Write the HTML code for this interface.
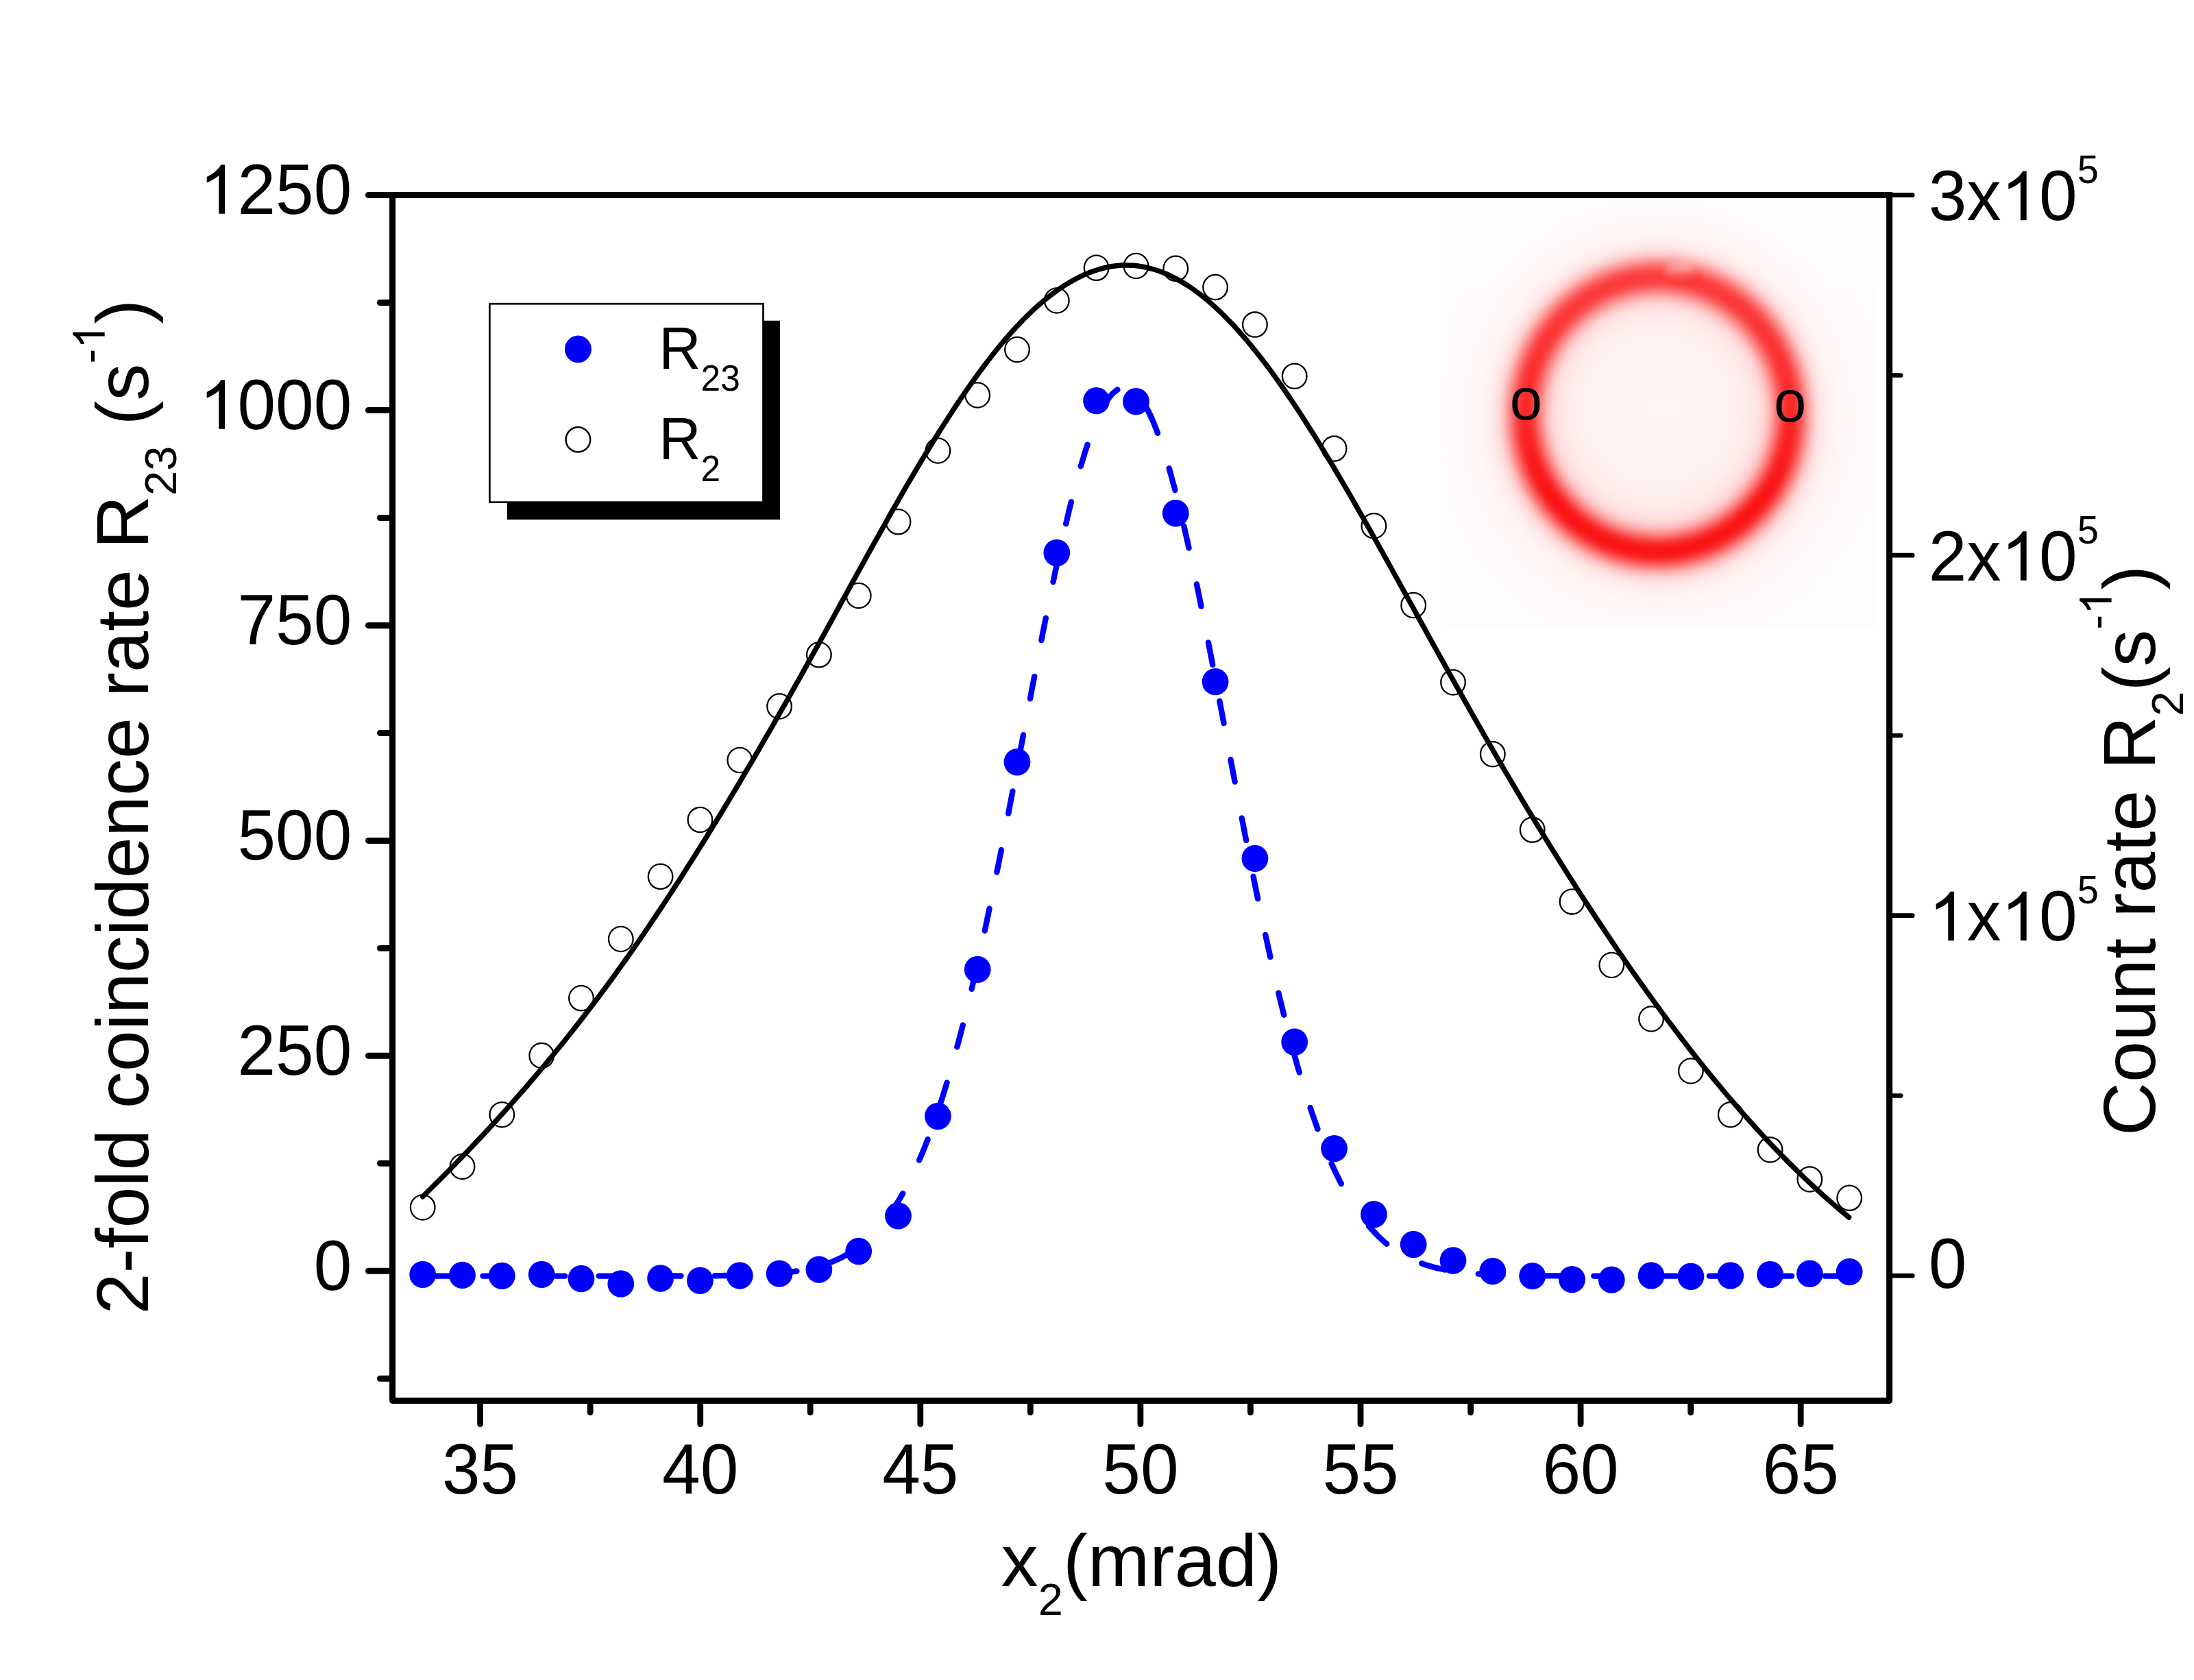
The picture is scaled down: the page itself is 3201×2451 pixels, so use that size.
<!DOCTYPE html>
<html><head><meta charset="utf-8"><title>chart</title>
<style>html,body{margin:0;padding:0;background:#fff;width:3201px;height:2451px;overflow:hidden}svg{display:block}</style></head>
<body>
<svg width="3201" height="2451" viewBox="0 0 3201 2451">
<defs>
<radialGradient id="ring" gradientUnits="userSpaceOnUse" cx="2418.8" cy="604.5" r="330" gradientTransform="translate(0,604.5) scale(1,1.0336) translate(0,-604.5)">
<stop offset="0.0000" stop-color="rgb(255, 243, 243)"/>
<stop offset="0.2424" stop-color="rgb(255, 242, 242)"/>
<stop offset="0.3030" stop-color="rgb(255, 241, 241)"/>
<stop offset="0.3121" stop-color="rgb(255, 240, 240)"/>
<stop offset="0.3212" stop-color="rgb(255, 240, 240)"/>
<stop offset="0.3303" stop-color="rgb(255, 239, 239)"/>
<stop offset="0.3394" stop-color="rgb(255, 239, 239)"/>
<stop offset="0.3485" stop-color="rgb(255, 238, 238)"/>
<stop offset="0.3576" stop-color="rgb(255, 237, 237)"/>
<stop offset="0.3667" stop-color="rgb(255, 236, 236)"/>
<stop offset="0.3758" stop-color="rgb(255, 236, 236)"/>
<stop offset="0.3848" stop-color="rgb(255, 235, 235)"/>
<stop offset="0.3939" stop-color="rgb(255, 234, 234)"/>
<stop offset="0.4030" stop-color="rgb(255, 232, 232)"/>
<stop offset="0.4121" stop-color="rgb(255, 231, 231)"/>
<stop offset="0.4212" stop-color="rgb(255, 229, 229)"/>
<stop offset="0.4303" stop-color="rgb(255, 227, 227)"/>
<stop offset="0.4394" stop-color="rgb(255, 224, 224)"/>
<stop offset="0.4485" stop-color="rgb(254, 220, 220)"/>
<stop offset="0.4576" stop-color="rgb(254, 215, 215)"/>
<stop offset="0.4667" stop-color="rgb(254, 208, 208)"/>
<stop offset="0.4758" stop-color="rgb(254, 198, 198)"/>
<stop offset="0.4848" stop-color="rgb(254, 186, 186)"/>
<stop offset="0.4939" stop-color="rgb(253, 172, 172)"/>
<stop offset="0.5030" stop-color="rgb(253, 154, 154)"/>
<stop offset="0.5121" stop-color="rgb(253, 135, 135)"/>
<stop offset="0.5212" stop-color="rgb(252, 114, 114)"/>
<stop offset="0.5303" stop-color="rgb(252, 93, 93)"/>
<stop offset="0.5394" stop-color="rgb(251, 72, 72)"/>
<stop offset="0.5485" stop-color="rgb(251, 54, 54)"/>
<stop offset="0.5576" stop-color="rgb(250, 39, 39)"/>
<stop offset="0.5667" stop-color="rgb(250, 28, 28)"/>
<stop offset="0.5758" stop-color="rgb(250, 22, 22)"/>
<stop offset="0.5848" stop-color="rgb(250, 20, 20)"/>
<stop offset="0.5939" stop-color="rgb(250, 21, 21)"/>
<stop offset="0.6030" stop-color="rgb(250, 26, 26)"/>
<stop offset="0.6121" stop-color="rgb(250, 35, 35)"/>
<stop offset="0.6212" stop-color="rgb(251, 49, 49)"/>
<stop offset="0.6303" stop-color="rgb(251, 67, 67)"/>
<stop offset="0.6394" stop-color="rgb(251, 87, 87)"/>
<stop offset="0.6485" stop-color="rgb(252, 109, 109)"/>
<stop offset="0.6576" stop-color="rgb(252, 131, 131)"/>
<stop offset="0.6667" stop-color="rgb(253, 152, 152)"/>
<stop offset="0.6758" stop-color="rgb(253, 171, 171)"/>
<stop offset="0.6848" stop-color="rgb(254, 188, 188)"/>
<stop offset="0.6939" stop-color="rgb(254, 201, 201)"/>
<stop offset="0.7030" stop-color="rgb(254, 212, 212)"/>
<stop offset="0.7121" stop-color="rgb(254, 220, 220)"/>
<stop offset="0.7212" stop-color="rgb(254, 227, 227)"/>
<stop offset="0.7303" stop-color="rgb(255, 231, 231)"/>
<stop offset="0.7394" stop-color="rgb(255, 234, 234)"/>
<stop offset="0.7485" stop-color="rgb(255, 237, 237)"/>
<stop offset="0.7576" stop-color="rgb(255, 239, 239)"/>
<stop offset="0.7667" stop-color="rgb(255, 241, 241)"/>
<stop offset="0.7758" stop-color="rgb(255, 242, 242)"/>
<stop offset="0.7848" stop-color="rgb(255, 243, 243)"/>
<stop offset="0.7939" stop-color="rgb(255, 244, 244)"/>
<stop offset="0.8030" stop-color="rgb(255, 245, 245)"/>
<stop offset="0.8121" stop-color="rgb(255, 246, 246)"/>
<stop offset="0.8212" stop-color="rgb(255, 247, 247)"/>
<stop offset="0.8303" stop-color="rgb(255, 247, 247)"/>
<stop offset="0.8394" stop-color="rgb(255, 248, 248)"/>
<stop offset="0.8485" stop-color="rgb(255, 248, 248)"/>
<stop offset="0.8576" stop-color="rgb(255, 249, 249)"/>
<stop offset="0.8667" stop-color="rgb(255, 249, 249)"/>
<stop offset="0.8758" stop-color="rgb(255, 250, 250)"/>
<stop offset="0.8848" stop-color="rgb(255, 250, 250)"/>
<stop offset="0.8939" stop-color="rgb(255, 250, 250)"/>
<stop offset="0.9030" stop-color="rgb(255, 251, 251)"/>
<stop offset="1.0000" stop-color="rgb(255, 252, 252)"/>
</radialGradient>
<linearGradient id="fade" gradientUnits="userSpaceOnUse" x1="0" y1="330" x2="0" y2="720">
<stop offset="0" stop-color="#fff" stop-opacity="0.2"/><stop offset="0.55" stop-color="#fff" stop-opacity="0.12"/><stop offset="1" stop-color="#fff" stop-opacity="0"/>
</linearGradient>
<filter id="bl" x="-1" y="-1" width="3" height="3"><feGaussianBlur stdDeviation="5"/></filter>
</defs>
<rect width="3201" height="2451" fill="#fff"/>
<rect x="2102.8" y="284" width="635.8" height="631.5" fill="url(#ring)"/>
<g filter="url(#bl)"><ellipse cx="2450" cy="392" rx="20" ry="9" fill="#fff" fill-opacity="0.3"/><path d="M2427,393 Q2436,412 2456,413 T2482,405" fill="none" stroke="#f00" stroke-opacity="0.4" stroke-width="7"/></g>
<rect x="2102.8" y="284" width="635.8" height="631.5" fill="url(#fade)"/>
<g fill="none" stroke="#000" stroke-width="2.3">
<ellipse cx="616.7" cy="1761.4" rx="17.8" ry="18.1"/>
<ellipse cx="674.5" cy="1702.0" rx="17.8" ry="18.1"/>
<ellipse cx="732.3" cy="1626.2" rx="17.8" ry="18.1"/>
<ellipse cx="790.2" cy="1540.0" rx="17.8" ry="18.1"/>
<ellipse cx="848.0" cy="1456.3" rx="17.8" ry="18.1"/>
<ellipse cx="905.8" cy="1370.0" rx="17.8" ry="18.1"/>
<ellipse cx="963.6" cy="1278.8" rx="17.8" ry="18.1"/>
<ellipse cx="1021.4" cy="1196.0" rx="17.8" ry="18.1"/>
<ellipse cx="1079.3" cy="1109.0" rx="17.8" ry="18.1"/>
<ellipse cx="1137.1" cy="1030.5" rx="17.8" ry="18.1"/>
<ellipse cx="1194.9" cy="955.3" rx="17.8" ry="18.1"/>
<ellipse cx="1252.7" cy="869.0" rx="17.8" ry="18.1"/>
<ellipse cx="1310.5" cy="761.3" rx="17.8" ry="18.1"/>
<ellipse cx="1368.4" cy="657.5" rx="17.8" ry="18.1"/>
<ellipse cx="1426.2" cy="576.5" rx="17.8" ry="18.1"/>
<ellipse cx="1484.0" cy="510.0" rx="17.8" ry="18.1"/>
<ellipse cx="1541.8" cy="438.5" rx="17.8" ry="18.1"/>
<ellipse cx="1599.6" cy="390.8" rx="17.8" ry="18.1"/>
<ellipse cx="1657.5" cy="388.0" rx="17.8" ry="18.1"/>
<ellipse cx="1715.3" cy="391.8" rx="17.8" ry="18.1"/>
<ellipse cx="1773.1" cy="419.0" rx="17.8" ry="18.1"/>
<ellipse cx="1830.9" cy="473.6" rx="17.8" ry="18.1"/>
<ellipse cx="1888.7" cy="548.7" rx="17.8" ry="18.1"/>
<ellipse cx="1946.6" cy="654.6" rx="17.8" ry="18.1"/>
<ellipse cx="2004.4" cy="767.2" rx="17.8" ry="18.1"/>
<ellipse cx="2062.2" cy="883.0" rx="17.8" ry="18.1"/>
<ellipse cx="2120.0" cy="995.5" rx="17.8" ry="18.1"/>
<ellipse cx="2177.8" cy="1100.2" rx="17.8" ry="18.1"/>
<ellipse cx="2235.7" cy="1210.6" rx="17.8" ry="18.1"/>
<ellipse cx="2293.5" cy="1315.4" rx="17.8" ry="18.1"/>
<ellipse cx="2351.3" cy="1408.0" rx="17.8" ry="18.1"/>
<ellipse cx="2409.1" cy="1486.5" rx="17.8" ry="18.1"/>
<ellipse cx="2466.9" cy="1562.5" rx="17.8" ry="18.1"/>
<ellipse cx="2524.8" cy="1626.2" rx="17.8" ry="18.1"/>
<ellipse cx="2582.6" cy="1677.4" rx="17.8" ry="18.1"/>
<ellipse cx="2640.4" cy="1720.4" rx="17.8" ry="18.1"/>
<ellipse cx="2698.2" cy="1747.8" rx="17.8" ry="18.1"/>
</g>
<path d="M616.7,1745.8 L624.7,1737.9 L632.8,1729.9 L640.8,1721.9 L648.8,1713.9 L656.9,1705.7 L664.9,1697.5 L672.9,1689.2 L681.0,1680.9 L689.0,1672.4 L697.0,1663.9 L705.1,1655.4 L713.1,1646.7 L721.1,1638.0 L729.2,1629.1 L737.2,1620.2 L745.2,1611.2 L753.3,1602.1 L761.3,1593.0 L769.4,1583.7 L777.4,1574.3 L785.4,1564.9 L793.5,1555.3 L801.5,1545.6 L809.5,1535.9 L817.6,1526.0 L825.6,1516.0 L833.6,1505.9 L841.7,1495.7 L849.7,1485.4 L857.7,1475.0 L865.8,1464.4 L873.8,1453.8 L881.8,1443.0 L889.9,1432.1 L897.9,1421.0 L905.9,1409.8 L914.0,1398.5 L922.0,1387.1 L930.0,1375.6 L938.1,1363.9 L946.1,1352.1 L954.1,1340.2 L962.2,1328.2 L970.2,1316.0 L978.2,1303.8 L986.3,1291.4 L994.3,1278.9 L1002.3,1266.3 L1010.4,1253.6 L1018.4,1240.8 L1026.5,1228.0 L1034.5,1215.0 L1042.5,1201.9 L1050.6,1188.7 L1058.6,1175.5 L1066.6,1162.1 L1074.7,1148.7 L1082.7,1135.1 L1090.7,1121.5 L1098.8,1107.8 L1106.8,1094.1 L1114.8,1080.2 L1122.9,1066.3 L1130.9,1052.3 L1138.9,1038.2 L1147.0,1024.1 L1155.0,1009.9 L1163.0,995.6 L1171.1,981.3 L1179.1,966.9 L1187.1,952.5 L1195.2,938.0 L1203.2,923.5 L1211.2,908.9 L1219.3,894.3 L1227.3,879.6 L1235.3,865.0 L1243.4,850.4 L1251.4,835.8 L1259.4,821.2 L1267.5,806.7 L1275.5,792.2 L1283.6,777.8 L1291.6,763.5 L1299.6,749.2 L1307.7,735.1 L1315.7,721.1 L1323.7,707.2 L1331.8,693.5 L1339.8,679.9 L1347.8,666.5 L1355.9,653.3 L1363.9,640.2 L1371.9,627.3 L1380.0,614.7 L1388.0,602.3 L1396.0,590.1 L1404.1,578.2 L1412.1,566.5 L1420.1,555.1 L1428.2,544.0 L1436.2,533.2 L1444.2,522.7 L1452.3,512.5 L1460.3,502.7 L1468.3,493.2 L1476.4,484.1 L1484.4,475.3 L1492.4,466.9 L1500.5,458.9 L1508.5,451.3 L1516.5,444.1 L1524.6,437.3 L1532.6,430.9 L1540.7,424.9 L1548.7,419.3 L1556.7,414.2 L1564.8,409.4 L1572.8,405.2 L1580.8,401.3 L1588.9,397.9 L1596.9,395.0 L1604.9,392.5 L1613.0,390.4 L1621.0,388.8 L1629.0,387.7 L1637.1,387.1 L1645.1,387.0 L1653.1,387.3 L1661.2,388.1 L1669.2,389.5 L1677.2,391.3 L1685.3,393.5 L1693.3,396.3 L1701.3,399.5 L1709.4,403.2 L1717.4,407.4 L1725.4,412.0 L1733.5,417.0 L1741.5,422.5 L1749.5,428.4 L1757.6,434.7 L1765.6,441.5 L1773.6,448.7 L1781.7,456.3 L1789.7,464.3 L1797.8,472.6 L1805.8,481.4 L1813.8,490.5 L1821.9,500.0 L1829.9,509.8 L1837.9,519.9 L1846.0,530.3 L1854.0,541.1 L1862.0,552.1 L1870.1,563.5 L1878.1,575.0 L1886.1,586.9 L1894.2,599.0 L1902.2,611.3 L1910.2,623.9 L1918.3,636.6 L1926.3,649.6 L1934.3,662.7 L1942.4,676.0 L1950.4,689.5 L1958.4,703.2 L1966.5,716.9 L1974.5,730.8 L1982.5,744.9 L1990.6,759.0 L1998.6,773.2 L2006.6,787.5 L2014.7,801.9 L2022.7,816.3 L2030.7,830.8 L2038.8,845.4 L2046.8,859.9 L2054.9,874.5 L2062.9,889.0 L2070.9,903.6 L2079.0,918.1 L2087.0,932.7 L2095.0,947.2 L2103.1,961.6 L2111.1,976.1 L2119.1,990.5 L2127.2,1004.8 L2135.2,1019.1 L2143.2,1033.4 L2151.3,1047.6 L2159.3,1061.7 L2167.3,1075.7 L2175.4,1089.7 L2183.4,1103.6 L2191.4,1117.4 L2199.5,1131.1 L2207.5,1144.7 L2215.5,1158.2 L2223.6,1171.7 L2231.6,1185.1 L2239.6,1198.3 L2247.7,1211.5 L2255.7,1224.6 L2263.7,1237.6 L2271.8,1250.5 L2279.8,1263.3 L2287.8,1276.0 L2295.9,1288.6 L2303.9,1301.2 L2312.0,1313.6 L2320.0,1325.9 L2328.0,1338.1 L2336.1,1350.2 L2344.1,1362.2 L2352.1,1374.2 L2360.2,1386.0 L2368.2,1397.7 L2376.2,1409.3 L2384.3,1420.8 L2392.3,1432.1 L2400.3,1443.4 L2408.4,1454.6 L2416.4,1465.6 L2424.4,1476.6 L2432.5,1487.4 L2440.5,1498.1 L2448.5,1508.7 L2456.6,1519.2 L2464.6,1529.6 L2472.6,1539.9 L2480.7,1550.0 L2488.7,1560.0 L2496.7,1569.9 L2504.8,1579.7 L2512.8,1589.4 L2520.8,1598.9 L2528.9,1608.3 L2536.9,1617.6 L2544.9,1626.8 L2553.0,1635.8 L2561.0,1644.8 L2569.1,1653.5 L2577.1,1662.2 L2585.1,1670.7 L2593.2,1679.1 L2601.2,1687.4 L2609.2,1695.5 L2617.3,1703.5 L2625.3,1711.4 L2633.3,1719.1 L2641.4,1726.7 L2649.4,1734.2 L2657.4,1741.5 L2665.5,1748.7 L2673.5,1755.7 L2681.5,1762.6 L2689.6,1769.4 L2697.6,1776.0" fill="none" stroke="#000" stroke-width="7.5" stroke-linecap="round" stroke-linejoin="round"/>
<g fill="none" stroke="#0000ff" stroke-width="8.4" stroke-linecap="round">
<path d="M616.7,1861.6 L616.7,1861.6 L618.8,1861.6 L620.9,1861.6 L622.9,1861.6 L625.0,1861.6 L627.1,1861.6 L629.2,1861.6 L631.3,1861.6 L633.4,1861.6 L635.4,1861.6 L637.5,1861.6 L639.6,1861.6 L641.7,1861.6 L643.8,1861.6 L645.8,1861.6 L647.9,1861.6 L650.0,1861.6 L652.1,1861.6 L654.2,1861.6 L656.2,1861.6 L658.3,1861.6 L660.4,1861.6 L662.5,1861.6 L664.6,1861.6 L666.7,1861.6 L668.7,1861.6 L670.8,1861.6 L672.9,1861.6 L675.0,1861.6 L677.1,1861.6 L679.1,1861.6 L681.2,1861.6 L683.3,1861.6 L685.4,1861.6 L687.5,1861.6 L689.6,1861.6 L691.6,1861.6 L693.7,1861.6 L695.8,1861.6 L697.9,1861.6 L700.0,1861.6 L702.0,1861.6 L704.1,1861.6 L706.2,1861.6 L708.3,1861.6 L710.4,1861.6 L712.4,1861.6 L714.5,1861.6 L716.6,1861.6 L718.7,1861.6 L720.8,1861.6 L722.9,1861.6 L724.9,1861.6 L727.0,1861.6 L729.1,1861.6 L731.2,1861.6 L733.3,1861.6 L735.3,1861.6 L737.4,1861.6 L739.5,1861.6 L741.6,1861.6 L743.7,1861.6 L745.8,1861.6 L747.8,1861.6 L749.9,1861.6 L752.0,1861.6 L754.1,1861.6 L756.2,1861.6 L758.2,1861.6 L760.3,1861.6 L762.4,1861.6 L764.5,1861.6 L766.6,1861.6 L768.7,1861.6 L770.7,1861.6 L772.8,1861.6 L774.9,1861.6 L777.0,1861.6 L779.1,1861.6 L781.1,1861.6 L783.2,1861.6 L785.3,1861.6 L787.4,1861.6 L789.5,1861.6 L791.5,1861.6 L793.6,1861.6 L795.7,1861.6 L797.8,1861.6 L799.9,1861.6 L802.0,1861.6 L804.0,1861.6 L806.1,1861.6 L808.2,1861.6 L810.3,1861.6 L812.4,1861.6 L814.4,1861.6 L816.5,1861.6 L818.6,1861.6 L820.7,1861.6 L822.8,1861.6 L824.9,1861.6 L826.9,1861.6 L829.0,1861.6 L831.1,1861.6 L833.2,1861.6 L835.3,1861.6 L837.3,1861.6 L839.4,1861.6 L841.5,1861.6 L843.6,1861.6 L845.7,1861.6 L847.7,1861.6 L849.8,1861.6 L851.9,1861.6 L854.0,1861.6 L856.1,1861.6 L858.2,1861.6 L860.2,1861.6 L862.3,1861.6 L864.4,1861.6 L866.5,1861.6 L868.6,1861.6 L870.6,1861.6 L872.7,1861.6 L874.8,1861.6 L876.9,1861.6 L879.0,1861.6 L881.1,1861.6 L883.1,1861.6 L885.2,1861.6 L887.3,1861.6 L889.4,1861.6 L891.5,1861.6 L893.5,1861.6 L895.6,1861.6 L897.7,1861.6 L899.8,1861.6 L901.9,1861.6 L903.9,1861.6 L906.0,1861.6 L908.1,1861.6 L910.2,1861.6 L912.3,1861.6 L914.4,1861.6 L916.4,1861.6 L918.5,1861.6 L920.6,1861.6 L922.7,1861.6 L924.8,1861.6 L926.8,1861.6 L928.9,1861.6 L931.0,1861.6 L933.1,1861.6 L935.2,1861.6 L937.3,1861.6 L939.3,1861.6 L941.4,1861.6 L943.5,1861.6 L945.6,1861.6 L947.7,1861.6 L949.7,1861.6 L951.8,1861.6 L953.9,1861.6 L956.0,1861.6 L958.1,1861.6 L960.2,1861.6 L962.2,1861.6 L964.3,1861.6 L966.4,1861.6 L968.5,1861.6 L970.6,1861.6 L972.6,1861.5 L974.7,1861.5 L976.8,1861.5 L978.9,1861.5 L981.0,1861.5 L983.0,1861.5 L985.1,1861.5 L987.2,1861.5 L989.3,1861.5 L991.4,1861.5 L993.5,1861.5 L995.5,1861.5 L997.6,1861.5 L999.7,1861.5 L1001.8,1861.5 L1003.9,1861.5 L1005.9,1861.5 L1008.0,1861.5 L1010.1,1861.4 L1012.2,1861.4 L1014.3,1861.4 L1016.4,1861.4 L1018.4,1861.4 L1020.5,1861.4 L1022.6,1861.4 L1024.7,1861.4 L1026.8,1861.4 L1028.8,1861.3 L1030.9,1861.3 L1033.0,1861.3 L1035.1,1861.3 L1037.2,1861.3 L1039.2,1861.2 L1041.3,1861.2 L1043.4,1861.2 L1045.5,1861.2 L1047.6,1861.2 L1049.7,1861.1 L1051.7,1861.1 L1053.8,1861.1 L1055.9,1861.0 L1058.0,1861.0 L1060.1,1861.0 L1062.1,1860.9 L1064.2,1860.9 L1066.3,1860.9 L1068.4,1860.8 L1070.5,1860.8 L1072.6,1860.7 L1074.6,1860.7 L1076.7,1860.7 L1078.8,1860.6 L1080.9,1860.5 L1083.0,1860.5 L1085.0,1860.4 L1087.1,1860.4 L1089.2,1860.3 L1091.3,1860.2 L1093.4,1860.2 L1095.4,1860.1 L1097.5,1860.0 L1099.6,1859.9 L1101.7,1859.8 L1103.8,1859.7 L1105.9,1859.6 L1107.9,1859.5 L1110.0,1859.4 L1112.1,1859.3 L1114.2,1859.2 L1116.3,1859.1 L1118.3,1859.0 L1120.4,1858.8 L1122.5,1858.7 L1124.6,1858.5 L1126.7,1858.4 L1128.8,1858.2 L1130.8,1858.1 L1132.9,1857.9 L1135.0,1857.7 L1137.1,1857.5 L1139.2,1857.3 L1141.2,1857.1 L1143.3,1856.9 L1145.4,1856.7 L1147.5,1856.4 L1149.6,1856.2 L1151.7,1855.9 L1153.7,1855.6 L1155.8,1855.4 L1157.9,1855.1 L1160.0,1854.8 L1162.1,1854.5 L1164.1,1854.1 L1166.2,1853.8 L1168.3,1853.4 L1170.4,1853.0 L1172.5,1852.7 L1174.5,1852.3 L1176.6,1851.8 L1178.7,1851.4 L1180.8,1850.9 L1182.9,1850.5 L1185.0,1850.0 L1187.0,1849.5 L1189.1,1848.9 L1191.2,1848.4 L1193.3,1847.8 L1195.4,1847.2 L1197.4,1846.6 L1199.5,1846.0 L1201.6,1845.3 L1203.7,1844.6 L1205.8,1843.9 L1207.9,1843.2 L1209.9,1842.4 L1212.0,1841.6 L1214.1,1840.8 L1216.2,1839.9 L1218.3,1839.0 L1220.3,1838.1 L1222.4,1837.2 L1224.5,1836.2 L1226.6,1835.2 L1228.7,1834.1 L1230.7,1833.0 L1232.8,1831.9 L1234.9,1830.8 L1237.0,1829.6 L1239.1,1828.3 L1241.2,1827.0 L1243.2,1825.7 L1245.3,1824.3 L1247.4,1822.9 L1249.5,1821.5 L1251.6,1819.9 L1253.6,1818.4 L1255.7,1816.8 L1257.8,1815.1 L1259.9,1813.4 L1262.0,1811.7 L1264.1,1809.8 L1266.1,1808.0 L1268.2,1806.1 L1268.8,1805.5" stroke-dasharray="35.2 49.4" stroke-dashoffset="-3.2"/>
<path d="M1268.8,1805.5 L1269.3,1805.1 L1271.3,1803.1 L1273.4,1801.0 L1275.5,1798.8 L1277.6,1796.7 L1279.7,1794.4 L1281.7,1792.1 L1283.8,1789.7 L1285.9,1787.2 L1288.0,1784.7 L1290.1,1782.1 L1292.2,1779.4 L1294.2,1776.7 L1296.3,1773.9 L1298.4,1771.0 L1300.5,1768.0 L1302.6,1764.9 L1304.6,1761.8 L1306.7,1758.6 L1308.8,1755.3 L1310.9,1751.9 L1313.0,1748.5 L1315.0,1744.9 L1317.1,1741.3 L1319.2,1737.6 L1321.3,1733.8 L1323.4,1729.9 L1325.5,1725.9 L1327.5,1721.8 L1329.6,1717.6 L1331.7,1713.3 L1333.8,1708.9 L1335.9,1704.5 L1337.9,1699.9 L1340.0,1695.2 L1342.1,1690.4 L1344.2,1685.5 L1346.3,1680.6 L1348.4,1675.5 L1350.4,1670.3 L1352.5,1665.0 L1354.6,1659.6 L1356.7,1654.1 L1358.8,1648.4 L1360.8,1642.7 L1362.9,1636.9 L1365.0,1630.9 L1367.1,1624.8 L1369.2,1618.7 L1371.3,1612.4 L1373.3,1606.0 L1375.4,1599.4 L1377.5,1592.8 L1379.6,1586.1 L1381.7,1579.2 L1383.7,1572.3 L1385.8,1565.2 L1387.9,1558.0 L1390.0,1550.7 L1392.1,1543.2 L1394.1,1535.7 L1396.2,1528.1 L1398.3,1520.3 L1400.4,1512.4 L1402.5,1504.4 L1404.6,1496.3 L1406.6,1488.1 L1408.7,1479.8 L1410.8,1471.4 L1412.9,1462.9 L1415.0,1454.2 L1417.0,1445.5 L1419.1,1436.6 L1421.2,1427.7 L1423.3,1418.6 L1425.4,1409.5 L1427.5,1400.2 L1429.5,1390.9 L1431.6,1381.4 L1433.7,1371.9 L1435.8,1362.3 L1437.9,1352.6 L1439.9,1342.8 L1442.0,1332.9 L1444.1,1322.9 L1446.2,1312.9 L1448.3,1302.7 L1450.3,1292.5 L1452.4,1282.3 L1454.5,1271.9 L1456.6,1261.5 L1458.7,1251.0 L1460.8,1240.5 L1462.8,1229.9 L1464.9,1219.3 L1467.0,1208.6 L1469.1,1197.8 L1471.2,1187.0 L1473.2,1176.2 L1475.3,1165.3 L1477.4,1154.4 L1479.5,1143.5 L1481.6,1132.5 L1482.8,1126.1" stroke-dasharray="33 54.2" stroke-dashoffset="-47.7"/>
<path d="M1482.8,1126.1 L1483.1,1124.3 L1485.2,1113.3 L1487.3,1102.3 L1489.4,1091.3 L1491.5,1080.3 L1493.5,1069.3 L1495.6,1058.2 L1497.7,1047.2 L1499.8,1036.2 L1501.9,1025.2 L1503.9,1014.3 L1506.0,1003.3 L1508.1,992.4 L1510.2,981.5 L1512.3,970.7 L1514.4,959.9 L1516.4,949.2 L1518.5,938.5 L1520.6,927.8 L1522.7,917.3 L1524.8,906.8 L1526.8,896.3 L1528.9,886.0 L1531.0,875.7 L1533.1,865.5 L1535.2,855.4 L1537.3,845.4 L1539.3,835.5 L1541.4,825.8 L1543.5,816.1 L1545.6,806.5 L1547.7,797.1 L1549.7,787.8 L1551.8,778.6 L1553.9,769.6 L1556.0,760.7 L1558.1,751.9 L1560.1,743.3 L1562.2,734.9 L1564.3,726.6 L1566.4,718.5 L1568.5,710.5 L1570.6,702.8 L1572.6,695.2 L1574.7,687.7 L1576.8,680.5 L1578.9,673.4 L1581.0,666.6 L1583.0,659.9 L1585.1,653.5 L1587.2,647.2 L1589.3,641.2 L1591.4,635.3 L1593.5,629.7 L1595.5,624.3 L1595.6,624.1" stroke-dasharray="33 53.8" stroke-dashoffset="-21.9"/>
<path d="M1595.6,624.1 L1596.1,623.0 L1598.1,617.9 L1600.2,613.0 L1602.3,608.3 L1604.4,603.8 L1606.5,599.6 L1608.5,595.6 L1610.6,591.9 L1612.7,588.4 L1614.8,585.1 L1616.9,582.1 L1619.0,579.3 L1621.0,576.8 L1623.1,574.5 L1625.2,572.5 L1627.3,570.7 L1629.4,569.2 L1631.4,567.9 L1633.5,566.9 L1635.6,566.1 L1637.7,565.6 L1639.8,565.3 L1641.8,565.3 L1643.9,565.6 L1646.0,566.1 L1648.1,566.8 L1650.2,567.9 L1652.3,569.1 L1654.3,570.6 L1656.4,572.4 L1658.5,574.4 L1660.6,576.7 L1662.7,579.2 L1664.7,582.0 L1666.0,583.8" stroke-dasharray="33 300" stroke-dashoffset="-33.6"/>
<path d="M1669.3,588.8 L1669.4,589.1 L1671.5,592.7 L1673.6,596.4 L1675.7,600.5 L1677.8,604.7 L1679.8,609.2 L1680.2,610.2" stroke-dasharray="100 100" stroke-dashoffset="0"/>
<path d="M1666.0,583.8 L1666.3,584.2 L1668.4,587.4 L1670.5,590.8 L1672.6,594.5 L1674.6,598.4 L1676.7,602.6 L1678.8,607.0 L1680.9,611.6 L1683.0,616.4 L1685.0,621.5 L1687.1,626.8 L1689.2,632.3 L1691.3,638.0 L1693.4,643.9 L1695.4,650.1 L1697.5,656.4 L1699.6,663.0 L1701.7,669.7 L1703.8,676.7 L1705.9,683.8 L1707.9,691.1 L1710.0,698.6 L1712.1,706.3 L1714.2,714.2 L1716.3,722.2 L1718.3,730.4 L1720.4,738.8 L1722.5,747.3 L1724.6,755.9 L1726.7,764.8 L1728.8,773.7 L1730.8,782.8 L1732.9,792.1 L1735.0,801.4 L1737.1,810.9 L1739.2,820.5 L1741.2,830.2 L1743.3,840.1 L1745.4,850.0 L1747.5,860.0 L1749.6,870.2 L1751.6,880.4 L1753.7,890.7 L1755.8,901.1 L1757.9,911.6 L1760.0,922.1 L1762.1,932.7 L1764.1,943.4 L1766.2,954.1 L1768.3,964.9 L1770.4,975.7 L1772.5,986.5 L1774.5,997.4 L1776.6,1008.4 L1778.7,1019.3 L1780.8,1030.3 L1782.9,1041.3 L1785.0,1052.3 L1787.0,1063.3 L1789.1,1074.3 L1791.2,1085.4 L1793.3,1096.4 L1795.4,1107.4 L1797.4,1118.4 L1799.5,1129.4 L1801.6,1140.3 L1803.7,1151.3 L1805.8,1162.2 L1807.8,1173.0 L1809.9,1183.9 L1812.0,1194.7 L1814.1,1205.4 L1816.2,1216.2 L1818.3,1226.8 L1820.3,1237.4 L1822.4,1248.0 L1824.5,1258.5 L1826.6,1268.9 L1828.7,1279.3 L1830.7,1289.6 L1832.8,1299.8 L1834.9,1309.9 L1837.0,1320.0 L1839.1,1330.0 L1841.2,1339.9 L1843.2,1349.7 L1845.3,1359.5 L1847.4,1369.1 L1849.5,1378.7 L1851.6,1388.2 L1853.6,1397.5 L1855.7,1406.8 L1857.8,1416.0 L1859.9,1425.1 L1862.0,1434.0 L1864.1,1442.9 L1866.1,1451.7 L1868.2,1460.4 L1870.3,1468.9 L1872.4,1477.4 L1874.5,1485.7 L1876.5,1494.0 L1878.6,1502.1 L1880.7,1510.1 L1882.8,1518.0 L1884.9,1525.8 L1886.9,1533.5 L1889.0,1541.1 L1891.1,1548.5 L1893.2,1555.9 L1895.3,1563.1 L1897.4,1570.2 L1899.4,1577.2 L1901.5,1584.1 L1903.6,1590.9 L1905.7,1597.5 L1907.8,1604.1 L1909.8,1610.5 L1911.9,1616.8 L1914.0,1623.0 L1916.1,1629.1 L1918.2,1635.1 L1920.3,1641.0 L1922.3,1646.8 L1924.4,1652.4 L1926.5,1658.0 L1928.6,1663.4 L1930.7,1668.8 L1932.7,1674.0 L1934.8,1679.1 L1936.9,1684.1 L1939.0,1689.0 L1941.1,1693.8 L1943.1,1698.5 L1945.2,1703.1 L1947.3,1707.6 L1949.4,1712.1 L1951.5,1716.4 L1953.6,1720.6 L1955.6,1724.7 L1957.7,1728.7 L1959.8,1732.6 L1961.9,1736.5 L1964.0,1740.2 L1966.0,1743.9 L1968.1,1747.5 L1970.2,1750.9 L1972.3,1754.3 L1974.4,1757.7 L1976.5,1760.9 L1977.9,1763.1" stroke-dasharray="33 53.9" stroke-dashoffset="-20.5"/>
<path d="M1977.9,1763.1 L1978.0,1763.3 L1980.1,1766.4 L1982.2,1769.4 L1984.3,1772.3 L1986.3,1775.2 L1988.4,1777.9 L1990.5,1780.7 L1992.6,1783.3 L1994.7,1785.9 L1996.7,1788.4 L1998.8,1790.8 L2000.9,1793.1 L2003.0,1795.4 L2005.1,1797.7 L2007.2,1799.8 L2009.2,1801.9 L2011.3,1804.0 L2013.4,1806.0 L2015.5,1807.9 L2017.6,1809.8 L2019.6,1811.6 L2021.7,1813.4 L2023.8,1815.1 L2025.9,1816.7 L2028.0,1818.3 L2030.1,1819.9 L2032.1,1821.4 L2034.2,1822.9 L2036.3,1824.3 L2038.4,1825.6 L2040.5,1827.0 L2042.5,1828.3 L2044.6,1829.5 L2046.7,1830.7 L2048.8,1831.9 L2049.0,1832.0" stroke-dasharray="37 200" stroke-dashoffset="-32"/>
<path d="M2049.0,1832.0 L2049.3,1832.2 L2051.4,1833.3 L2053.5,1834.4 L2055.6,1835.4 L2057.6,1836.4 L2059.7,1837.4 L2061.8,1838.3 L2063.9,1839.2 L2066.0,1840.1 L2068.0,1841.0 L2070.1,1841.8 L2072.2,1842.6 L2074.3,1843.3 L2076.4,1844.1 L2078.4,1844.8 L2080.5,1845.5 L2082.6,1846.1 L2084.7,1846.7 L2086.8,1847.4 L2088.9,1847.9 L2090.9,1848.5 L2093.0,1849.1 L2095.1,1849.6 L2097.2,1850.1 L2099.3,1850.6 L2101.3,1851.0 L2103.4,1851.5 L2105.5,1851.9 L2107.6,1852.3 L2109.7,1852.7 L2111.8,1853.1 L2113.8,1853.5 L2115.9,1853.9 L2118.0,1854.2 L2120.1,1854.5 L2122.2,1854.8 L2124.2,1855.1 L2126.3,1855.4 L2128.4,1855.7 L2130.5,1856.0 L2132.6,1856.2 L2134.6,1856.5 L2136.7,1856.7 L2138.8,1856.9 L2140.9,1857.1 L2143.0,1857.3 L2145.1,1857.5 L2147.1,1857.7 L2149.2,1857.9 L2151.3,1858.1 L2153.4,1858.3 L2155.5,1858.4 L2157.5,1858.6 L2159.6,1858.7 L2161.7,1858.8 L2163.8,1859.0 L2165.9,1859.1 L2168.0,1859.2 L2170.0,1859.3 L2172.1,1859.5 L2174.2,1859.6 L2176.3,1859.7 L2178.4,1859.8 L2180.4,1859.8 L2182.5,1859.9 L2184.6,1860.0 L2186.7,1860.1 L2188.8,1860.2 L2190.8,1860.2 L2192.9,1860.3 L2195.0,1860.4 L2197.1,1860.4 L2199.2,1860.5 L2201.3,1860.6 L2203.3,1860.6 L2205.4,1860.7 L2207.5,1860.7 L2209.6,1860.8 L2211.7,1860.8 L2213.7,1860.8 L2215.8,1860.9 L2217.9,1860.9 L2220.0,1861.0 L2222.1,1861.0 L2224.2,1861.0 L2226.2,1861.1 L2228.3,1861.1 L2230.4,1861.1 L2232.5,1861.1 L2234.6,1861.2 L2236.6,1861.2 L2238.7,1861.2 L2240.8,1861.2 L2242.9,1861.3 L2245.0,1861.3 L2247.1,1861.3 L2249.1,1861.3 L2251.2,1861.3 L2253.3,1861.3 L2255.4,1861.4 L2257.5,1861.4 L2259.5,1861.4 L2261.6,1861.4 L2263.7,1861.4 L2265.8,1861.4 L2267.9,1861.4 L2269.9,1861.4 L2272.0,1861.4 L2274.1,1861.5 L2276.2,1861.5 L2278.3,1861.5 L2280.4,1861.5 L2282.4,1861.5 L2284.5,1861.5 L2286.6,1861.5 L2288.7,1861.5 L2290.8,1861.5 L2292.8,1861.5 L2294.9,1861.5 L2297.0,1861.5 L2299.1,1861.5 L2301.2,1861.5 L2303.3,1861.5 L2305.3,1861.5 L2307.4,1861.5 L2309.5,1861.5 L2311.6,1861.6 L2313.7,1861.6 L2315.7,1861.6 L2317.8,1861.6 L2319.9,1861.6 L2322.0,1861.6 L2324.1,1861.6 L2326.1,1861.6 L2328.2,1861.6 L2330.3,1861.6 L2332.4,1861.6 L2334.5,1861.6 L2336.6,1861.6 L2338.6,1861.6 L2340.7,1861.6 L2342.8,1861.6 L2344.9,1861.6 L2347.0,1861.6 L2349.0,1861.6 L2351.1,1861.6 L2353.2,1861.6 L2355.3,1861.6 L2357.4,1861.6 L2359.5,1861.6 L2361.5,1861.6 L2363.6,1861.6 L2365.7,1861.6 L2367.8,1861.6 L2369.9,1861.6 L2371.9,1861.6 L2374.0,1861.6 L2376.1,1861.6 L2378.2,1861.6 L2380.3,1861.6 L2382.3,1861.6 L2384.4,1861.6 L2386.5,1861.6 L2388.6,1861.6 L2390.7,1861.6 L2392.8,1861.6 L2394.8,1861.6 L2396.9,1861.6 L2399.0,1861.6 L2401.1,1861.6 L2403.2,1861.6 L2405.2,1861.6 L2407.3,1861.6 L2409.4,1861.6 L2411.5,1861.6 L2413.6,1861.6 L2415.7,1861.6 L2417.7,1861.6 L2419.8,1861.6 L2421.9,1861.6 L2424.0,1861.6 L2426.1,1861.6 L2428.1,1861.6 L2430.2,1861.6 L2432.3,1861.6 L2434.4,1861.6 L2436.5,1861.6 L2438.6,1861.6 L2440.6,1861.6 L2442.7,1861.6 L2444.8,1861.6 L2446.9,1861.6 L2449.0,1861.6 L2451.0,1861.6 L2453.1,1861.6 L2455.2,1861.6 L2457.3,1861.6 L2459.4,1861.6 L2461.4,1861.6 L2463.5,1861.6 L2465.6,1861.6 L2467.7,1861.6 L2469.8,1861.6 L2471.9,1861.6 L2473.9,1861.6 L2476.0,1861.6 L2478.1,1861.6 L2480.2,1861.6 L2482.3,1861.6 L2484.3,1861.6 L2486.4,1861.6 L2488.5,1861.6 L2490.6,1861.6 L2492.7,1861.6 L2494.8,1861.6 L2496.8,1861.6 L2498.9,1861.6 L2501.0,1861.6 L2503.1,1861.6 L2505.2,1861.6 L2507.2,1861.6 L2509.3,1861.6 L2511.4,1861.6 L2513.5,1861.6 L2515.6,1861.6 L2517.6,1861.6 L2519.7,1861.6 L2521.8,1861.6 L2523.9,1861.6 L2526.0,1861.6 L2528.1,1861.6 L2530.1,1861.6 L2532.2,1861.6 L2534.3,1861.6 L2536.4,1861.6 L2538.5,1861.6 L2540.5,1861.6 L2542.6,1861.6 L2544.7,1861.6 L2546.8,1861.6 L2548.9,1861.6 L2551.0,1861.6 L2553.0,1861.6 L2555.1,1861.6 L2557.2,1861.6 L2559.3,1861.6 L2561.4,1861.6 L2563.4,1861.6 L2565.5,1861.6 L2567.6,1861.6 L2569.7,1861.6 L2571.8,1861.6 L2573.8,1861.6 L2575.9,1861.6 L2578.0,1861.6 L2580.1,1861.6 L2582.2,1861.6 L2584.3,1861.6 L2586.3,1861.6 L2588.4,1861.6 L2590.5,1861.6 L2592.6,1861.6 L2594.7,1861.6 L2596.7,1861.6 L2598.8,1861.6 L2600.9,1861.6 L2603.0,1861.6 L2605.1,1861.6 L2607.2,1861.6 L2609.2,1861.6 L2611.3,1861.6 L2613.4,1861.6 L2615.5,1861.6 L2617.6,1861.6 L2619.6,1861.6 L2621.7,1861.6 L2623.8,1861.6 L2625.9,1861.6 L2628.0,1861.6 L2630.1,1861.6 L2632.1,1861.6 L2634.2,1861.6 L2636.3,1861.6 L2638.4,1861.6 L2640.5,1861.6 L2642.5,1861.6 L2644.6,1861.6 L2646.7,1861.6 L2648.8,1861.6 L2650.9,1861.6 L2652.9,1861.6 L2655.0,1861.6 L2657.1,1861.6 L2659.2,1861.6 L2661.3,1861.6 L2663.4,1861.6 L2665.4,1861.6 L2667.5,1861.6 L2669.6,1861.6 L2671.7,1861.6 L2673.8,1861.6 L2675.8,1861.6 L2677.9,1861.6 L2680.0,1861.6 L2682.1,1861.6 L2684.2,1861.6 L2686.3,1861.6 L2688.3,1861.6 L2690.4,1861.6 L2692.5,1861.6 L2694.6,1861.6 L2696.7,1861.6 L2698.2,1861.6" stroke-dasharray="36 48.3" stroke-dashoffset="-27.6"/>
</g>
<g fill="#0000ff">
<ellipse cx="616.7" cy="1859.4" rx="19.4" ry="19.7"/>
<ellipse cx="674.5" cy="1860.4" rx="19.4" ry="19.7"/>
<ellipse cx="732.3" cy="1861.4" rx="19.4" ry="19.7"/>
<ellipse cx="790.2" cy="1859.4" rx="19.4" ry="19.7"/>
<ellipse cx="848.0" cy="1865.5" rx="19.4" ry="19.7"/>
<ellipse cx="905.8" cy="1873.0" rx="19.4" ry="19.7"/>
<ellipse cx="963.6" cy="1865.0" rx="19.4" ry="19.7"/>
<ellipse cx="1021.4" cy="1868.3" rx="19.4" ry="19.7"/>
<ellipse cx="1079.3" cy="1861.0" rx="19.4" ry="19.7"/>
<ellipse cx="1137.1" cy="1858.1" rx="19.4" ry="19.7"/>
<ellipse cx="1194.9" cy="1852.1" rx="19.4" ry="19.7"/>
<ellipse cx="1252.7" cy="1825.5" rx="19.4" ry="19.7"/>
<ellipse cx="1310.5" cy="1773.9" rx="19.4" ry="19.7"/>
<ellipse cx="1368.4" cy="1628.5" rx="19.4" ry="19.7"/>
<ellipse cx="1426.2" cy="1414.4" rx="19.4" ry="19.7"/>
<ellipse cx="1484.0" cy="1111.8" rx="19.4" ry="19.7"/>
<ellipse cx="1541.8" cy="806.5" rx="19.4" ry="19.7"/>
<ellipse cx="1599.6" cy="584.6" rx="19.4" ry="19.7"/>
<ellipse cx="1657.5" cy="585.8" rx="19.4" ry="19.7"/>
<ellipse cx="1715.3" cy="748.7" rx="19.4" ry="19.7"/>
<ellipse cx="1773.1" cy="994.6" rx="19.4" ry="19.7"/>
<ellipse cx="1830.9" cy="1252.4" rx="19.4" ry="19.7"/>
<ellipse cx="1888.7" cy="1520.2" rx="19.4" ry="19.7"/>
<ellipse cx="1946.6" cy="1675.6" rx="19.4" ry="19.7"/>
<ellipse cx="2004.4" cy="1771.8" rx="19.4" ry="19.7"/>
<ellipse cx="2062.2" cy="1815.5" rx="19.4" ry="19.7"/>
<ellipse cx="2120.0" cy="1839.0" rx="19.4" ry="19.7"/>
<ellipse cx="2177.8" cy="1854.6" rx="19.4" ry="19.7"/>
<ellipse cx="2235.7" cy="1861.6" rx="19.4" ry="19.7"/>
<ellipse cx="2293.5" cy="1866.6" rx="19.4" ry="19.7"/>
<ellipse cx="2351.3" cy="1867.1" rx="19.4" ry="19.7"/>
<ellipse cx="2409.1" cy="1861.0" rx="19.4" ry="19.7"/>
<ellipse cx="2466.9" cy="1862.3" rx="19.4" ry="19.7"/>
<ellipse cx="2524.8" cy="1861.0" rx="19.4" ry="19.7"/>
<ellipse cx="2582.6" cy="1859.5" rx="19.4" ry="19.7"/>
<ellipse cx="2640.4" cy="1858.2" rx="19.4" ry="19.7"/>
<ellipse cx="2698.2" cy="1855.5" rx="19.4" ry="19.7"/>
</g>
<g stroke="#000" stroke-width="9.0" fill="none">
<path d="M572.6,280.1 V2043.4 H2756.6 V280.1" stroke-linejoin="round"/>
<path d="M572.6,284.6 H2756.6"/>
</g>
<g stroke="#000" stroke-linecap="round">
<line x1="537.5" x2="572.6" y1="1854.3" y2="1854.3" stroke-width="9"/>
<line x1="537.5" x2="572.6" y1="1540.3" y2="1540.3" stroke-width="9"/>
<line x1="537.5" x2="572.6" y1="1226.4" y2="1226.4" stroke-width="9"/>
<line x1="537.5" x2="572.6" y1="912.4" y2="912.4" stroke-width="9"/>
<line x1="537.5" x2="572.6" y1="598.5" y2="598.5" stroke-width="9"/>
<line x1="537.5" x2="572.6" y1="284.5" y2="284.5" stroke-width="9"/>
<line x1="554.5" x2="572.6" y1="2011.3" y2="2011.3" stroke-width="9"/>
<line x1="554.5" x2="572.6" y1="1697.3" y2="1697.3" stroke-width="9"/>
<line x1="554.5" x2="572.6" y1="1383.4" y2="1383.4" stroke-width="9"/>
<line x1="554.5" x2="572.6" y1="1069.4" y2="1069.4" stroke-width="9"/>
<line x1="554.5" x2="572.6" y1="755.5" y2="755.5" stroke-width="9"/>
<line x1="554.5" x2="572.6" y1="441.5" y2="441.5" stroke-width="9"/>
<line x1="700.6" x2="700.6" y1="2043.4" y2="2077.6" stroke-width="8.8"/>
<line x1="1021.7" x2="1021.7" y1="2043.4" y2="2077.6" stroke-width="8.8"/>
<line x1="1342.8" x2="1342.8" y1="2043.4" y2="2077.6" stroke-width="8.8"/>
<line x1="1663.9" x2="1663.9" y1="2043.4" y2="2077.6" stroke-width="8.8"/>
<line x1="1985.0" x2="1985.0" y1="2043.4" y2="2077.6" stroke-width="8.8"/>
<line x1="2306.1" x2="2306.1" y1="2043.4" y2="2077.6" stroke-width="8.8"/>
<line x1="2627.2" x2="2627.2" y1="2043.4" y2="2077.6" stroke-width="8.8"/>
<line x1="861.2" x2="861.2" y1="2043.4" y2="2060.6" stroke-width="8.8"/>
<line x1="1182.2" x2="1182.2" y1="2043.4" y2="2060.6" stroke-width="8.8"/>
<line x1="1503.3" x2="1503.3" y1="2043.4" y2="2060.6" stroke-width="8.8"/>
<line x1="1824.4" x2="1824.4" y1="2043.4" y2="2060.6" stroke-width="8.8"/>
<line x1="2145.6" x2="2145.6" y1="2043.4" y2="2060.6" stroke-width="8.8"/>
<line x1="2466.7" x2="2466.7" y1="2043.4" y2="2060.6" stroke-width="8.8"/>
<line x1="2756.6" x2="2790.2" y1="1861.2" y2="1861.2" stroke-width="6.7"/>
<line x1="2756.6" x2="2790.2" y1="1335.7" y2="1335.7" stroke-width="6.7"/>
<line x1="2756.6" x2="2790.2" y1="810.2" y2="810.2" stroke-width="6.7"/>
<line x1="2756.6" x2="2790.2" y1="284.7" y2="284.7" stroke-width="6.7"/>
<line x1="2756.6" x2="2773.2" y1="1598.5" y2="1598.5" stroke-width="6.7"/>
<line x1="2756.6" x2="2773.2" y1="1073.0" y2="1073.0" stroke-width="6.7"/>
<line x1="2756.6" x2="2773.2" y1="547.5" y2="547.5" stroke-width="6.7"/>
</g>
<g font-family="'Liberation Sans', sans-serif" fill="#000" style="font-kerning:none" font-kerning="none">
<g transform="translate(513.3,1881.5) scale(1.0,1.04)"><text xml:space="preserve" x="-55.62" y="0" font-size="100">0</text></g>
<g transform="translate(513.3,1567.5) scale(1.0,1.04)"><text xml:space="preserve" x="-166.85" y="0" font-size="100">250</text></g>
<g transform="translate(513.3,1253.6) scale(1.0,1.04)"><text xml:space="preserve" x="-166.85" y="0" font-size="100">500</text></g>
<g transform="translate(513.3,939.6) scale(1.0,1.04)"><text xml:space="preserve" x="-166.85" y="0" font-size="100">750</text></g>
<g transform="translate(513.3,625.7) scale(1.0,1.04)"><path d="M763 0H583V1147Q518 1085 412.5 1023Q307 961 223 930V1104Q374 1175 487 1276Q600 1377 647 1472H763Z" transform="translate(-222.46,0) scale(0.04883,-0.04674)"/><text xml:space="preserve" x="-166.85" y="0" font-size="100">000</text></g>
<g transform="translate(513.3,311.7) scale(1.0,1.04)"><path d="M763 0H583V1147Q518 1085 412.5 1023Q307 961 223 930V1104Q374 1175 487 1276Q600 1377 647 1472H763Z" transform="translate(-222.46,0) scale(0.04883,-0.04674)"/><text xml:space="preserve" x="-166.85" y="0" font-size="100">250</text></g>
<g transform="translate(700.6,2179.4) scale(1.0,1.04)"><text xml:space="preserve" x="-55.62" y="0" font-size="100">35</text></g>
<g transform="translate(1021.7,2179.4) scale(1.0,1.04)"><text xml:space="preserve" x="-55.62" y="0" font-size="100">40</text></g>
<g transform="translate(1342.8,2179.4) scale(1.0,1.04)"><text xml:space="preserve" x="-55.62" y="0" font-size="100">45</text></g>
<g transform="translate(1663.9,2179.4) scale(1.0,1.04)"><text xml:space="preserve" x="-55.62" y="0" font-size="100">50</text></g>
<g transform="translate(1985.0,2179.4) scale(1.0,1.04)"><text xml:space="preserve" x="-55.62" y="0" font-size="100">55</text></g>
<g transform="translate(2306.1,2179.4) scale(1.0,1.04)"><text xml:space="preserve" x="-55.62" y="0" font-size="100">60</text></g>
<g transform="translate(2627.2,2179.4) scale(1.0,1.04)"><text xml:space="preserve" x="-55.62" y="0" font-size="100">65</text></g>
<g transform="translate(2813.8,1372.3) scale(1.0,1.04)"><path d="M763 0H583V1147Q518 1085 412.5 1023Q307 961 223 930V1104Q374 1175 487 1276Q600 1377 647 1472H763Z" transform="translate(0.00,0) scale(0.04883,-0.04674)"/><text xml:space="preserve" x="55.62" y="0" font-size="100">x</text><path d="M763 0H583V1147Q518 1085 412.5 1023Q307 961 223 930V1104Q374 1175 487 1276Q600 1377 647 1472H763Z" transform="translate(105.62,0) scale(0.04883,-0.04674)"/><text xml:space="preserve" x="161.23" y="0" font-size="100">0</text><text xml:space="preserve" x="216.85" y="-52" font-size="56">5</text></g>
<g transform="translate(2813.8,846.8) scale(1.0,1.04)"><text xml:space="preserve" x="0.00" y="0" font-size="100">2x</text><path d="M763 0H583V1147Q518 1085 412.5 1023Q307 961 223 930V1104Q374 1175 487 1276Q600 1377 647 1472H763Z" transform="translate(105.62,0) scale(0.04883,-0.04674)"/><text xml:space="preserve" x="161.23" y="0" font-size="100">0</text><text xml:space="preserve" x="216.85" y="-52" font-size="56">5</text></g>
<g transform="translate(2813.8,321.3) scale(1.0,1.04)"><text xml:space="preserve" x="0.00" y="0" font-size="100">3x</text><path d="M763 0H583V1147Q518 1085 412.5 1023Q307 961 223 930V1104Q374 1175 487 1276Q600 1377 647 1472H763Z" transform="translate(105.62,0) scale(0.04883,-0.04674)"/><text xml:space="preserve" x="161.23" y="0" font-size="100">0</text><text xml:space="preserve" x="216.85" y="-52" font-size="56">5</text></g>
<g transform="translate(2813.8,1878.8) scale(1.0,1.04)"><text xml:space="preserve" x="0.00" y="0" font-size="100">0</text></g>
<g transform="translate(1460.6,2314.0) scale(1,1)"><text xml:space="preserve" x="0.00" y="0" font-size="108.4">x</text><text xml:space="preserve" x="54.20" y="41.8" font-size="65">2</text><text xml:space="preserve" x="90.35" y="0" font-size="108.4">(mrad)</text></g>
<g transform="translate(215.7,1917.5) rotate(-90) scale(1,1)"><text xml:space="preserve" x="0.00" y="0" font-size="108">2-fold coincidence rate R</text><text xml:space="preserve" x="1194.64" y="41.5" font-size="65">23</text><text xml:space="preserve" x="1266.94" y="0" font-size="108"> (s</text><text xml:space="preserve" x="1386.92" y="-63" font-size="65">-</text><path d="M763 0H583V1147Q518 1085 412.5 1023Q307 961 223 930V1104Q374 1175 487 1276Q600 1377 647 1472H763Z" transform="translate(1408.56,-63) scale(0.03174,-0.03161)"/><text xml:space="preserve" x="1444.71" y="0" font-size="108">)</text></g>
<g transform="translate(3143.6,1657.0) rotate(-90) scale(1,1)"><text xml:space="preserve" x="0.00" y="0" font-size="108">Count rate R</text><text xml:space="preserve" x="612.30" y="41.5" font-size="65">2</text><text xml:space="preserve" x="648.45" y="0" font-size="108">(s</text><text xml:space="preserve" x="738.41" y="-63" font-size="65">-</text><path d="M763 0H583V1147Q518 1085 412.5 1023Q307 961 223 930V1104Q374 1175 487 1276Q600 1377 647 1472H763Z" transform="translate(760.06,-63) scale(0.03174,-0.03161)"/><text xml:space="preserve" x="796.21" y="0" font-size="108">)</text></g>
<text x="2226.5" y="611.6" font-size="85" text-anchor="middle">o</text>
<text x="2611.6" y="615.2" font-size="85" text-anchor="middle">o</text>
<rect x="739.9" y="467.8" width="398" height="290.2" fill="#000"/>
<rect x="714.4" y="443.2" width="399.1" height="289.5" fill="#fff" stroke="#000" stroke-width="2.7"/>
<ellipse cx="843.4" cy="509.4" rx="19.5" ry="19.8" fill="#0000ff"/>
<ellipse cx="843.4" cy="641.4" rx="17.8" ry="18.1" fill="none" stroke="#000" stroke-width="2.5"/>
<g transform="translate(961.2,537.9) scale(1,1.035)"><text xml:space="preserve" x="0.00" y="0" font-size="85">R</text><text xml:space="preserve" x="61.38" y="31.4" font-size="51.5">23</text></g>
<g transform="translate(961.2,669.9) scale(1,1.035)"><text xml:space="preserve" x="0.00" y="0" font-size="85">R</text><text xml:space="preserve" x="61.38" y="31.4" font-size="51.5">2</text></g>
</g>
</svg>
</body></html>
